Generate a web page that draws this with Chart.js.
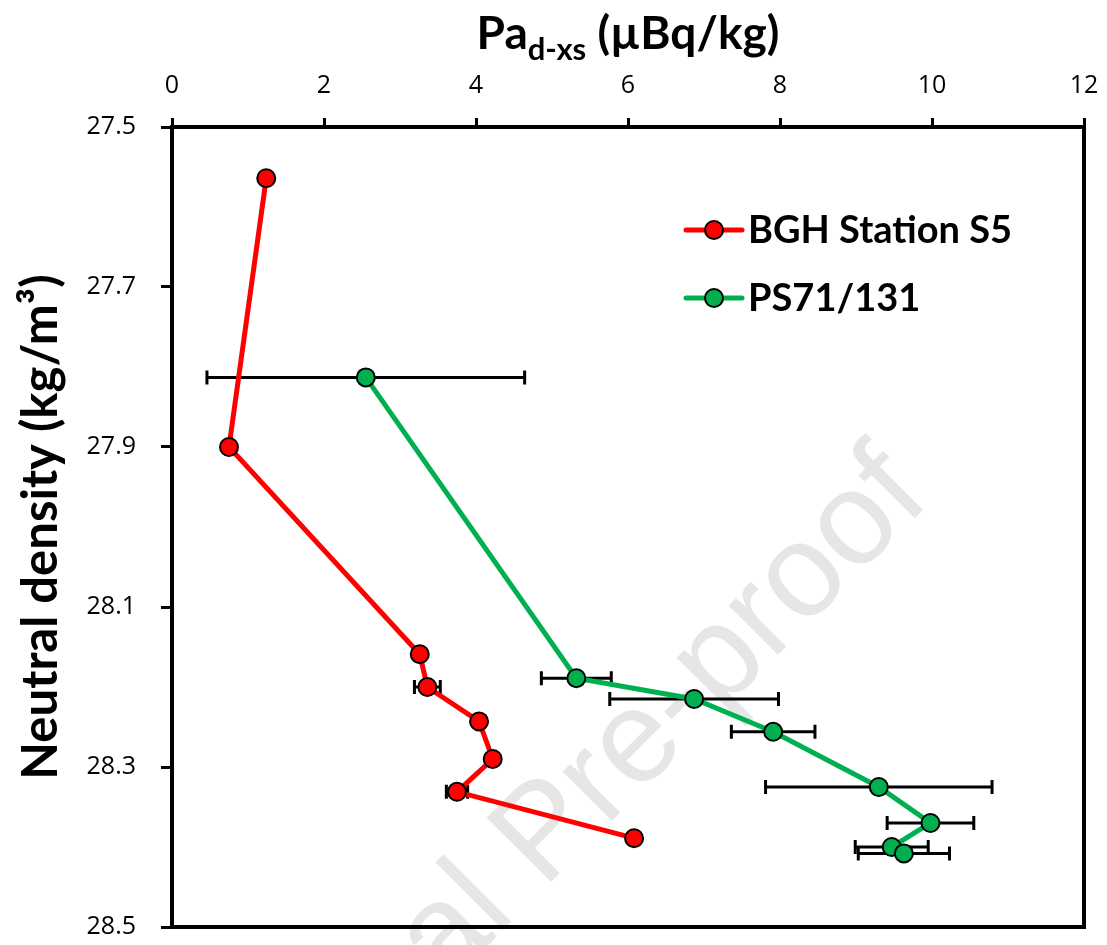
<!DOCTYPE html>
<html>
<head>
<meta charset="utf-8">
<script src="https://cdn.jsdelivr.net/npm/chart.js@4.4.1/dist/chart.umd.min.js"></script>
<style>
  html, body { margin: 0; padding: 0; background: #fff; }
  #wrap { width: 1107px; height: 945px; }
</style>
</head>
<body>
<div id="wrap"><canvas id="chart"></canvas></div>
<script>
// BGH Station S5
const bghX = [1.24, 0.75, 3.26, 3.36, 4.04, 4.22, 3.75, 6.08];
const bghY = [27.564, 27.9, 28.159, 28.2, 28.243, 28.29, 28.331, 28.389];
const bghErr = [0, 0, 0, 0.17, 0, 0, 0.14, 0.06];

// PS71/131
const psX = [2.55, 5.32, 6.87, 7.91, 9.30, 9.98, 9.47, 9.63];
const psY = [27.813, 28.189, 28.215, 28.256, 28.325, 28.370, 28.400, 28.408];
const psErr = [2.09, 0.46, 1.11, 0.55, 1.49, 0.57, 0.48, 0.60];

const xTicks = [0, 2, 4, 6, 8, 10, 12];
const yTicks = [27.5, 27.7, 27.9, 28.1, 28.3, 28.5];

const seriesNames = ['BGH Station S5', 'PS71/131'];

function toPoints(xs, ys, errs) {
    return xs.map((x, i) => ({ x: x, y: ys[i], err: errs[i] }));
}

// horizontal error bars, drawn under the markers
const errorBars = {
    id: 'errorBars',
    beforeDatasetsDraw(chart) {
        const ctx = chart.ctx;
        const xs = chart.scales.x, ys = chart.scales.y;
        ctx.save();
        ctx.strokeStyle = '#000';
        ctx.lineWidth = 3;
        chart.data.datasets.forEach(ds => {
            ds.data.forEach(p => {
                if (!p.err) return;
                const y = ys.getPixelForValue(p.y);
                const x1 = xs.getPixelForValue(p.x - p.err);
                const x2 = xs.getPixelForValue(p.x + p.err);
                ctx.beginPath();
                ctx.moveTo(x1, y); ctx.lineTo(x2, y);
                ctx.moveTo(x1, y - 7); ctx.lineTo(x1, y + 7);
                ctx.moveTo(x2, y - 7); ctx.lineTo(x2, y + 7);
                ctx.stroke();
            });
        });
        ctx.restore();
    }
};

// watermark behind the data
const watermark = {
    id: 'watermark',
    beforeDatasetsDraw(chart) {
        const ctx = chart.ctx;
        ctx.save();
        ctx.translate(860, 428);
        ctx.rotate(-Math.PI / 4);
        ctx.fillStyle = '#e6e6e6';
        ctx.font = '132px "Liberation Sans", Arial, sans-serif';
        ctx.textAlign = 'right';
        ctx.textBaseline = 'top';
        ctx.fillText('Journal Pre-proof', 0, 0);
        ctx.restore();
    }
};

// box, x title with subscript, legend
const extras = {
    id: 'extras',
    afterDraw(chart) {
        const ctx = chart.ctx;
        const a = chart.chartArea;
        ctx.save();
        ctx.strokeStyle = '#000';
        ctx.lineWidth = 4;
        ctx.strokeRect(a.left, a.top, a.right - a.left, a.bottom - a.top);

        // x title
        ctx.fillStyle = '#000';
        ctx.textBaseline = 'alphabetic';
        ctx.textAlign = 'left';
        const big = 'bold 46px Lato, sans-serif';
        const small = 'bold 31px Lato, sans-serif';
        ctx.font = big;
        const w1 = ctx.measureText('Pa').width;
        const w3 = ctx.measureText(' (\u00b5Bq/kg)').width;
        ctx.font = small;
        const w2 = ctx.measureText('d-xs').width;
        let x = (a.left + a.right) / 2 - (w1 + w2 + w3) / 2;
        const base = 49;
        ctx.font = big;
        ctx.fillText('Pa', x, base);
        x += w1;
        ctx.font = small;
        ctx.fillText('d-xs', x, base + 11);
        x += w2;
        ctx.font = big;
        ctx.fillText(' (\u00b5Bq/kg)', x, base);

        // legend
        const rows = [230, 298];
        chart.data.datasets.forEach((ds, i) => {
            const y = rows[i];
            ctx.strokeStyle = ds.borderColor;
            ctx.lineWidth = 5;
            ctx.lineCap = 'round';
            ctx.beginPath();
            ctx.moveTo(686, y); ctx.lineTo(742, y);
            ctx.stroke();
            ctx.beginPath();
            ctx.arc(714, y, 9, 0, Math.PI * 2);
            ctx.fillStyle = ds.pointBackgroundColor;
            ctx.fill();
            ctx.lineWidth = 2;
            ctx.strokeStyle = '#000';
            ctx.stroke();
            ctx.fillStyle = '#000';
            ctx.font = 'bold 38px Lato, sans-serif';
            ctx.textBaseline = 'middle';
            ctx.fillText(ds.label, 748, y + 1);
        });
        ctx.restore();
    }
};

const grafico = document.getElementById('chart');
const chart = new Chart(grafico, {
    type: 'scatter',
    data: {
        datasets: [{
            label: seriesNames[0],
            data: toPoints(bghX, bghY, bghErr),
            showLine: true,
            borderColor: '#ff0000',
            borderWidth: 5,
            pointBackgroundColor: '#ff0000',
            pointBorderColor: '#000',
            pointBorderWidth: 2,
            pointRadius: 9,
            pointHoverRadius: 9
        }, {
            label: seriesNames[1],
            data: toPoints(psX, psY, psErr),
            showLine: true,
            borderColor: '#00b050',
            borderWidth: 5,
            pointBackgroundColor: '#00b050',
            pointBorderColor: '#000',
            pointBorderWidth: 2,
            pointRadius: 9,
            pointHoverRadius: 9
        }]
    },
    options: {
        responsive: true,
        maintainAspectRatio: false,
        animation: false,
        layout: { padding: { left: 0, top: 0, right: 23, bottom: 18 } },
        plugins: {
            legend: { display: false },
            tooltip: { enabled: false }
        },
        scales: {
            x: {
                type: 'linear',
                position: 'top',
                min: 0,
                max: 12,
                afterBuildTicks: s => { s.ticks = xTicks.map(v => ({ value: v })); },
                afterFit: s => { s.height = 127; s.paddingLeft = 0; s.paddingRight = 0; },
                ticks: {
                    color: '#000',
                    font: { family: '"Open Sans", sans-serif', size: 25 },
                    padding: 17
                },
                grid: {
                    drawOnChartArea: false,
                    drawTicks: true,
                    tickLength: 9,
                    color: '#000',
                    lineWidth: 3
                },
                border: { display: true, color: '#000', width: 4 }
            },
            y: {
                type: 'linear',
                reverse: true,
                min: 27.5,
                max: 28.5,
                afterBuildTicks: s => { s.ticks = yTicks.map(v => ({ value: v })); },
                afterFit: s => { s.width = 172; s.paddingTop = 0; s.paddingBottom = 0; },
                ticks: {
                    color: '#000',
                    font: { family: '"Open Sans", sans-serif', size: 25 },
                    padding: 25,
                    callback: v => v.toFixed(1)
                },
                grid: {
                    drawOnChartArea: false,
                    drawTicks: true,
                    tickLength: 11,
                    color: '#000',
                    lineWidth: 3
                },
                border: { display: true, color: '#000', width: 4 },
                title: {
                    display: true,
                    text: 'Neutral density (kg/m\u00b3)',
                    color: '#000',
                    font: { family: 'Lato, sans-serif', size: 49, weight: 'bold' },
                    padding: { top: 12, bottom: 0 }
                }
            }
        }
    },
    plugins: [watermark, errorBars, extras]
});
</script>
</body>
</html>
